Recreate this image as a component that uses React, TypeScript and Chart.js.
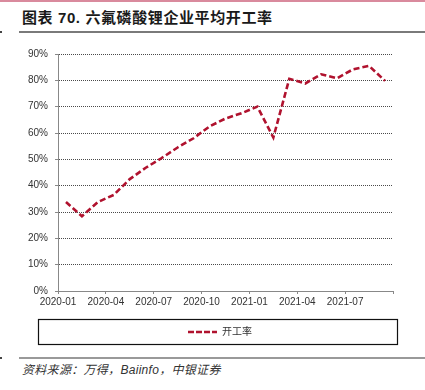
import React, { useEffect, useRef } from 'react';
import { Chart, registerables } from 'chart.js';

Chart.register(...registerables);

const TITLE = '图表 70. 六氟磷酸锂企业平均开工率';
const SOURCE = '资料来源：万得，Baiinfo，中银证券';
const SERIES_NAME = '开工率';

const months = [
  '2020-01', '2020-02', '2020-03', '2020-04', '2020-05', '2020-06', '2020-07',
  '2020-08', '2020-09', '2020-10', '2020-11', '2020-12', '2021-01', '2021-02',
  '2021-03', '2021-04', '2021-05', '2021-06', '2021-07', '2021-08', '2021-09',
];
const rates = [
  33.8, 28.4, 33.8, 36.5, 42.5, 46.8, 50.5,
  54.5, 58.0, 62.5, 65.5, 67.5, 70.0, 58.3,
  80.6, 78.8, 82.3, 80.8, 84.2, 85.5, 79.8,
];
const xTickLabels = ['2020-01', '2020-04', '2020-07', '2020-10', '2021-01', '2021-04', '2021-07', ''];
const TICK_EVERY_MONTHS = 3;
const Y_MIN = 0;
const Y_MAX = 90;
const Y_STEP = 10;

const LINE_COLOR = '#B0122E';
const SANS = '"Liberation Sans", Arial, "Noto Sans CJK SC", sans-serif';
const NARROW = '"Liberation Sans Narrow", "Arial Narrow", "Liberation Sans", Arial, sans-serif';

const legendBorder = {
  id: 'legendBorder',
  afterDraw(chart: any) {
    const lg = chart.legend;
    if (!lg) return;
    const ctx = chart.ctx;
    ctx.save();
    ctx.strokeStyle = '#111';
    ctx.lineWidth = 1.2;
    ctx.strokeRect(38.5, lg.top - 2.5, 359, 25);
    ctx.restore();
  },
};

function LineChart() {
  const ref = useRef<HTMLCanvasElement | null>(null);
  useEffect(() => {
    if (!ref.current) return;
    const points = months.map((m, i) => ({ x: i + 0.5, y: rates[i] }));
    const chart = new Chart(ref.current, {
      type: 'line',
      data: {
        datasets: [
          {
            label: SERIES_NAME,
            data: points,
            borderColor: LINE_COLOR,
            backgroundColor: LINE_COLOR,
            borderWidth: 2.6,
            borderDash: [6, 3],
            pointRadius: 0,
            fill: false,
            tension: 0,
            yAxisID: 'y',
          },
        ],
      },
      options: {
        responsive: false,
        animation: false,
        events: [],
        layout: { padding: { left: 15, right: 0, top: 14, bottom: 3 } },
        scales: {
          x: {
            type: 'linear',
            min: 0,
            max: months.length,
            afterFit: (s: any) => { s.height = 31; },
            grid: { drawOnChartArea: false, drawTicks: true, tickLength: 3, tickColor: '#888', color: '#888' },
            border: { display: true, color: '#888', width: 1 },
            ticks: {
              stepSize: TICK_EVERY_MONTHS,
              autoSkip: false,
              maxRotation: 0,
              padding: 2,
              color: '#333',
              font: { family: NARROW, size: 10 },
              callback: (v: any) => {
                const k = Math.round(Number(v) / TICK_EVERY_MONTHS);
                return xTickLabels[k] ?? '';
              },
            },
          },
          y: {
            type: 'linear',
            position: 'left',
            min: Y_MIN,
            max: Y_MAX,
            afterFit: (s: any) => { s.width = 43; },
            grid: { color: '#4a4a4a', lineWidth: 1, drawTicks: true, tickLength: 3, tickColor: '#888', tickBorderDash: [] },
            border: { display: true, color: '#888', width: 1, dash: [1, 1] },
            ticks: {
              stepSize: Y_STEP,
              padding: 7,
              color: '#333',
              font: { family: SANS, size: 10 },
              callback: (v: any) => `${v}%`,
            },
          },
          yRightSpace: {
            type: 'linear',
            position: 'right',
            min: Y_MIN,
            max: Y_MAX,
            afterFit: (s: any) => { s.width = 32; },
            grid: { display: false, drawTicks: false },
            border: { display: false },
            ticks: { display: false },
          },
        },
        plugins: {
          tooltip: { enabled: false },
          title: { display: false },
          legend: {
            display: true,
            position: 'bottom',
            labels: {
              usePointStyle: true,
              pointStyle: 'line',
              pointStyleWidth: 29,
              padding: 5,
              color: '#333',
              font: { family: SANS, size: 10 },
              generateLabels: (c: any) =>
                c.data.datasets.map((ds: any, i: number) => ({
                  text: ds.label,
                  fillStyle: 'rgba(0,0,0,0)',
                  strokeStyle: ds.borderColor,
                  lineWidth: ds.borderWidth,
                  lineDash: [6, 2],
                  lineCap: 'butt',
                  pointStyle: 'line',
                  fontColor: '#333',
                  hidden: false,
                  datasetIndex: i,
                })),
            },
          },
        },
      },
      plugins: [legendBorder],
    } as any);
    return () => chart.destroy();
  }, []);
  return <canvas ref={ref} width={425} height={310} style={{ display: 'block' }} />;
}

export default function App() {
  return (
    <div style={{ position: 'absolute', left: 0, top: 0, width: 425, height: 390, background: '#fff', overflow: 'hidden', fontFamily: SANS }}>
      <div style={{ position: 'absolute', left: 0, top: 0, width: 425, height: 2, background: '#d98a9d' }} />
      <div style={{ position: 'absolute', left: 22, top: 9, lineHeight: '18px', fontSize: 15, fontWeight: 'bold', letterSpacing: '0.6px', color: '#1a1a1a', whiteSpace: 'nowrap' }}>{TITLE}</div>
      <div style={{ position: 'absolute', left: 19, top: 31, width: 406, height: 2, background: '#7a7a7a' }} />
      <div style={{ position: 'absolute', left: 0, top: 31, width: 2, height: 2, background: '#444' }} />
      <div style={{ position: 'absolute', left: 0, top: 40, width: 425, height: 310 }}>
        <LineChart />
      </div>
      <div style={{ position: 'absolute', left: 19, top: 357, width: 406, height: 2, background: '#999' }} />
      <div style={{ position: 'absolute', left: 0, top: 357, width: 2, height: 2, background: '#444' }} />
      <div style={{ position: 'absolute', left: 22, top: 363, lineHeight: '14px', fontSize: 12, fontStyle: 'italic', letterSpacing: '0.3px', color: '#333', whiteSpace: 'nowrap' }}>{SOURCE}</div>
    </div>
  );
}
